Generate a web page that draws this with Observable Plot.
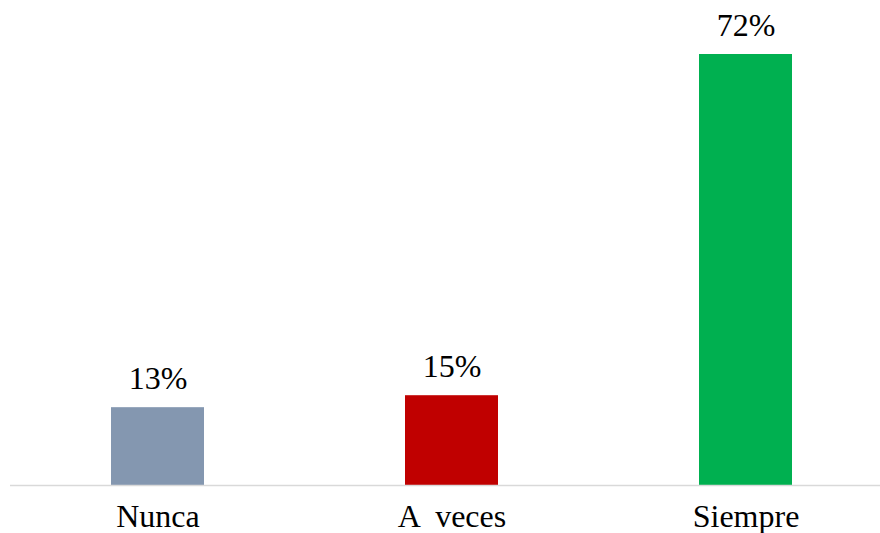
<!DOCTYPE html>
<html>
<head>
<meta charset="utf-8">
<script src="https://cdn.jsdelivr.net/npm/d3@7"></script>
<script src="https://cdn.jsdelivr.net/npm/@observablehq/plot@0.6"></script>
<style>
  html, body { margin: 0; padding: 0; background: #fff; font-family: "Liberation Serif", serif; }
</style>
</head>
<body>
<div id="chart"></div>
<script>
const categories = ["Nunca", "A  veces", "Siempre"];
const values = [13, 15, 72];

const data = categories.map((c, i) => ({category: c, value: values[i]}));
const serifFont = "Liberation Serif";

function draw() {
  const chart = Plot.plot({
    width: 880,
    height: 533,
    marginLeft: 10,
    marginRight: 0,
    marginTop: 0,
    marginBottom: 0,
    style: {fontFamily: serifFont, background: "#fff"},
    x: {domain: categories, range: [10.5, 892.5], paddingInner: 0.684, paddingOuter: 0.342, axis: null},
    y: {domain: [0, 72], range: [485, 54], axis: null},
    color: {domain: categories, range: ["#8497b0", "#c00000", "#00b050"]},
    marks: [
      Plot.barY(data, {x: "category", y: "value", fill: "category"}),
      Plot.ruleY([0], {stroke: "#d9d9d9", strokeWidth: 1.5}),
      Plot.text(data, {x: "category", y: "value", text: d => d.value + "%", lineAnchor: "bottom", dy: -19, fontSize: 32, fontFamily: serifFont}),
      Plot.text(data, {x: "category", y: () => 0, text: "category", lineAnchor: "bottom", dy: 41, fontSize: 32, fontFamily: serifFont})
    ]
  });
  const host = document.getElementById("chart");
  host.replaceChildren(chart);
}
draw();
if (document.fonts && document.fonts.load) {
  document.fonts.load('32px "Liberation Serif"', "Nunca 13%").then(draw).catch(() => {});
}
</script>
</body>
</html>
